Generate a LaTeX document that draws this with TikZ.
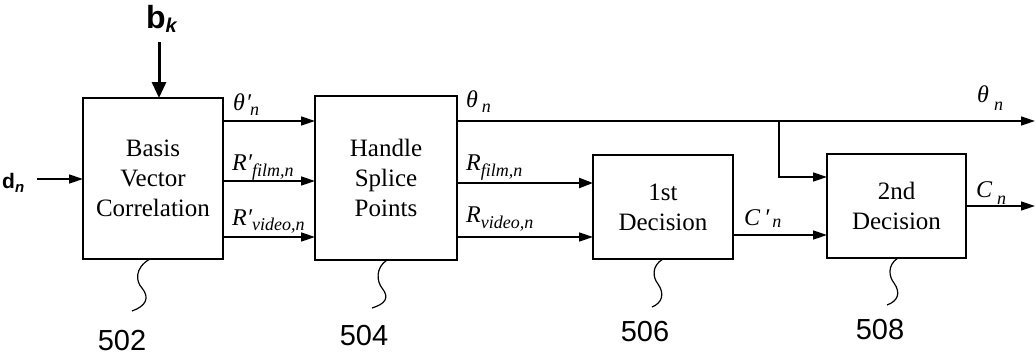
\documentclass[tikz,border=0pt]{standalone}
\usepackage{fontspec}
\setmainfont{Liberation Serif}
\newfontfamily\sansf{Liberation Sans}
\usetikzlibrary{arrows.meta}
\newcommand\lmain[1]{{\fontsize{24}{24}\selectfont\itshape #1}}
\newcommand\lsub[1]{{\fontsize{18}{18}\selectfont\itshape #1}}
\tikzset{
  blockbox/.style={draw, line width=1.3pt, outer sep=0pt, align=center,
    font=\fontsize{25}{30}\selectfont},
  sig/.style={line width=1.4pt, -{Triangle[length=14pt,width=9pt]}},
  sigbold/.style={line width=2.4pt, -{Triangle[length=14pt,width=10pt]}},
  sigheavy/.style={line width=3pt, -{Triangle[length=16pt,width=14pt]}},
  lab/.style={inner sep=0pt, anchor=base west},
  refnum/.style={font=\sansf\fontsize{29}{29}\selectfont, inner sep=0pt},
  leader/.style={line width=1.2pt}
}
\begin{document}
\begin{tikzpicture}[x=1pt,y=-1pt]
\useasboundingbox (0,0) rectangle (1036,356);
% blocks
\node[blockbox, minimum width=140pt, minimum height=161pt] (b502) at (153,178.5) {Basis\\Vector\\Correlation};
\node[blockbox, minimum width=142pt, minimum height=164pt] (b504) at (386,178) {Handle\\Splice\\Points};
\node[blockbox, minimum width=140pt, minimum height=104pt] (b506) at (663,207) {1st\\Decision};
\node[blockbox, minimum width=139pt, minimum height=104pt] (b508) at (896.5,206) {2nd\\Decision};
% inputs
\node[inner sep=0pt, anchor=base west] (bk) at (146,28)
  {\sansf\bfseries\fontsize{32}{32}\selectfont b\raisebox{-4pt}{\fontsize{20}{20}\selectfont\itshape k}};
\coordinate (bkstart) at (159,42);
\draw[sigheavy] (bkstart) -- (b502.north -| bkstart);
\node[inner sep=0pt, anchor=base west] (dn) at (2,188)
  {\sansf\bfseries\fontsize{21}{21}\selectfont d\raisebox{-4pt}{\fontsize{15}{15}\selectfont\itshape n}};
\coordinate (dstart) at (37,179);
\draw[sig] (dstart) -- (b502.west |- dstart);
% rows
\coordinate (ytheta) at (0,121);
\coordinate (yfilm) at (0,181);
\coordinate (yvid) at (0,237);
\coordinate (yfilmb) at (0,183);
\coordinate (ycp) at (0,235);
\coordinate (ybr) at (0,177);
\coordinate (ycn) at (0,206);
\coordinate (thout) at (1035,121);
\coordinate (cnout) at (1035,206);
\coordinate (br) at (779,121);
% 502 -> 504
\draw[sig] (b502.east |- ytheta) -- (b504.west |- ytheta);
\draw[sig] (b502.east |- yfilm) -- (b504.west |- yfilm);
\draw[sig] (b502.east |- yvid) -- (b504.west |- yvid);
% 504 -> out
\draw[sig] (b504.east |- ytheta) -- (thout);
\draw[sig] (br) |- (b508.west |- ybr);
\draw[sigbold] (b504.east |- yfilmb) -- (b506.west |- yfilmb);
\draw[sig] (b504.east |- yvid) -- (b506.west |- yvid);
\draw[sig] (b506.east |- ycp) -- (b508.west |- ycp);
\draw[sig] (b508.east |- ycn) -- (cnout);
% labels
\node[lab] (l1) at (233,110) {\lmain{θ\kern1pt′}\kern-1pt\raisebox{-5pt}{\lsub{n}}};
\node[lab] (l2) at (232,170) {\lmain{R′}\raisebox{-6pt}{\lsub{film,n}}};
\node[lab] (l3) at (232,225) {\lmain{R′}\raisebox{-5pt}{\lsub{video,n}}};
\node[lab] (l4) at (466,107) {\lmain{θ}\kern4pt\raisebox{-5pt}{\lsub{n}}};
\node[lab] (l5) at (466,170) {\lmain{R}\raisebox{-6pt}{\lsub{film,n}}};
\node[lab] (l6) at (466,222) {\lmain{R}\raisebox{-6pt}{\lsub{video,n}}};
\node[lab] (l7) at (744,225) {\lmain{C\,′}\kern3pt\raisebox{-2pt}{\lsub{n}}};
\node[lab] (l8) at (976,197) {\lmain{C}\kern5pt\raisebox{-7pt}{\lsub{n}}};
\node[lab] (l9) at (977,102) {\lmain{θ}\kern5pt\raisebox{-8pt}{\lsub{n}}};
% reference numbers
\node[refnum] (n502) at (122,341) {502};
\node[refnum] (n504) at (364,336) {504};
\node[refnum] (n506) at (645,332) {506};
\node[refnum] (n508) at (880,330) {508};
% leaders
\draw[leader] (b502.south -| 150,0) .. controls (134,268) and (136,282) .. (142,288) .. controls (150,298) and (146,306) .. (132,311);
\draw[leader] (b504.south -| 387,0) .. controls (375,268) and (377,282) .. (382,288) .. controls (390,298) and (385,304) .. (372,308);
\draw[leader] (b506.south -| 663,0) .. controls (651,266) and (653,278) .. (658,284) .. controls (665,294) and (662,303) .. (652,307);
\draw[leader] (b508.south -| 898,0) .. controls (887,265) and (889,277) .. (894,283) .. controls (901,293) and (898,301) .. (887,305);
\end{tikzpicture}
\end{document}
